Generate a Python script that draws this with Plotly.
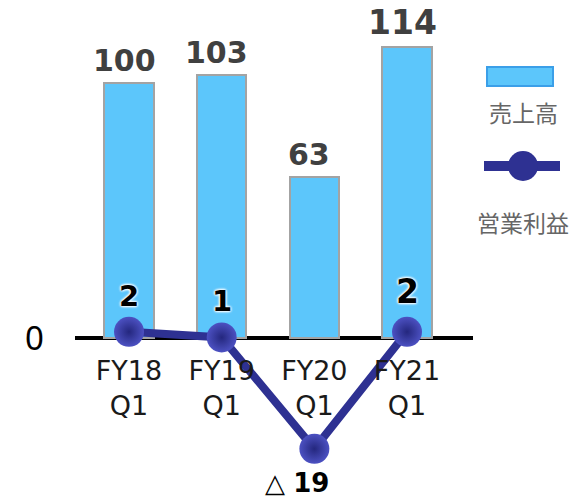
import plotly.graph_objects as go

# Quarterly results: net sales (bars) and operating profit (line)
categories = ["FY18<br>Q1", "FY19<br>Q1", "FY20<br>Q1", "FY21<br>Q1"]
sales = [100, 103, 63, 114]
op_profit = [2, 1, -19, 2]
legend_names = ["売上高", "営業利益"]

W, H = 571, 500
ML, MR = 75, 98
PW = W - ML - MR

BAR_COLOR = "#5cc6fb"
BAR_EDGE = "#a3a3a3"
LINE_COLOR = "#2e3192"
HALO = "0 0 3px white, 0 0 3px white, 0 0 3px white, 0 0 2px white"


def px_x(p):
    """Pixel x on the page -> paper x."""
    return (p - ML) / PW


def px_y(p):
    """Pixel y on the page -> paper y (plot area spans full height)."""
    return (H - p) / H


xs = list(range(len(categories)))
last = xs[-1]

fig = go.Figure()
fig.add_bar(
    x=xs, y=sales, width=0.53,
    marker=dict(color=BAR_COLOR, line=dict(color=BAR_EDGE, width=2)),
    hoverinfo="skip", showlegend=False,
)
fig.add_scatter(
    x=xs, y=op_profit, yaxis="y2", mode="lines+markers",
    line=dict(color=LINE_COLOR, width=8),
    marker=dict(size=30, color="#4c51c2",
                gradient=dict(type="radial", color="#24277e"),
                line=dict(width=0)),
    hoverinfo="skip", showlegend=False,
)

annotations = []
# sales value labels above the bars (latest quarter slightly larger)
for i, v in zip(xs, sales):
    annotations.append(dict(
        x=i, y=v, xref="x", yref="y", text=f"<b>{v}</b>", showarrow=False,
        yanchor="bottom", xanchor="center", yshift=3, xshift=-5,
        font=dict(family="DejaVu Sans", size=33 if i == last else 30, color="#404040"),
    ))
# operating profit labels (negative values use the △ notation)
for i, v in zip(xs, op_profit):
    if v >= 0:
        annotations.append(dict(
            x=i, y=v, xref="x", yref="y2", text=f"<b>{v}</b>", showarrow=False,
            yanchor="middle", xanchor="center", yshift=40 if i == last else 36,
            font=dict(family="DejaVu Sans", size=33 if i == last else 29,
                      color="#000000", shadow=HALO),
        ))
    else:
        annotations.append(dict(
            x=i, y=v, xref="x", yref="y2", text=f"△ <b>{abs(v)}</b>", showarrow=False,
            yanchor="top", xanchor="center", yshift=-17, xshift=-17,
            font=dict(family="DejaVu Sans", size=26, color="#000000"),
        ))

# custom legend: swatch above its caption
legend_font = dict(family="Noto Sans CJK JP", size=23, color="#666666")
annotations.append(dict(x=px_x(523), y=px_y(112), xref="paper", yref="paper",
                        xanchor="center", yanchor="middle",
                        text=legend_names[0], showarrow=False, font=legend_font))
annotations.append(dict(x=px_x(523), y=px_y(222), xref="paper", yref="paper",
                        xanchor="center", yanchor="middle",
                        text=legend_names[1], showarrow=False, font=legend_font))

shapes = [
    dict(type="rect", xref="paper", yref="paper",
         x0=px_x(487), x1=px_x(553), y0=px_y(86), y1=px_y(67),
         fillcolor=BAR_COLOR, line=dict(color="#3b9fe8", width=2)),
    dict(type="line", xref="paper", yref="paper",
         x0=px_x(484), x1=px_x(560), y0=px_y(166), y1=px_y(166),
         line=dict(color=LINE_COLOR, width=10)),
    dict(type="circle", xref="paper", yref="paper",
         x0=px_x(508), x1=px_x(538), y0=px_y(181), y1=px_y(151),
         fillcolor=LINE_COLOR, line=dict(width=0)),
]

fig.update_layout(
    width=W, height=H,
    margin=dict(l=ML, r=MR, t=0, b=0),
    paper_bgcolor="white", plot_bgcolor="white",
    showlegend=False,
    bargap=0,
    xaxis=dict(
        range=[-0.583, 3.712], tickvals=xs, ticktext=categories,
        anchor="free", position=px_y(338),
        showgrid=False, zeroline=False, showline=False, ticks="",
        ticklabelstandoff=14,
        tickfont=dict(family="DejaVu Sans", size=27, color="#1a1a1a"),
    ),
    yaxis=dict(
        range=[-63.5, 132.5], tickvals=[0], ticktext=["0"],
        showgrid=False, zeroline=True, zerolinecolor="black", zerolinewidth=4,
        showline=False, ticks="", ticklabelstandoff=30,
        tickfont=dict(family="Noto Sans", size=33, color="#000000"),
    ),
    yaxis2=dict(
        range=[-28.19, 61.58], overlaying="y", side="right", visible=False,
        showgrid=False, zeroline=False,
    ),
    annotations=annotations,
    shapes=shapes,
)

fig.write_html("out.html")
